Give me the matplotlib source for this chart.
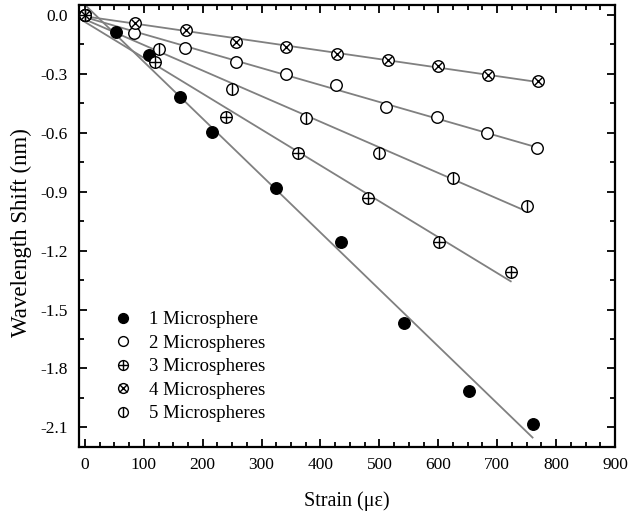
import numpy as np
import matplotlib
matplotlib.use("Agg")
import matplotlib.pyplot as plt
from matplotlib.ticker import MultipleLocator, FixedLocator

plt.rcParams['font.family'] = ['Liberation Serif', 'DejaVu Serif']
plt.rcParams['axes.unicode_minus'] = False

# Data (strain in micro-strain, wavelength shift in nm)
x1 = [0, 52, 109, 162, 216, 325, 434, 542, 652, 760]
y1 = [0, -0.085, -0.203, -0.417, -0.595, -0.883, -1.157, -1.571, -1.917, -2.084]
x2 = [0, 84, 170, 256, 341, 427, 512, 597, 683, 768]
y2 = [0, -0.093, -0.168, -0.239, -0.303, -0.359, -0.468, -0.520, -0.600, -0.680]
x3 = [0, 119, 240, 361, 481, 602, 723]
y3 = [0, -0.241, -0.522, -0.705, -0.930, -1.156, -1.310]
x4 = [0, 85, 171, 257, 342, 428, 514, 599, 685, 770]
y4 = [0, -0.039, -0.076, -0.137, -0.163, -0.198, -0.230, -0.259, -0.308, -0.337]
x5 = [0, 126, 250, 375, 499, 625, 750]
y5 = [0, -0.173, -0.378, -0.524, -0.702, -0.829, -0.974]
labels = ["1 Microsphere", "2 Microspheres", "3 Microspheres",
          "4 Microspheres", "5 Microspheres"]

fig = plt.figure(figsize=(6.37, 5.12), dpi=100)
ax = fig.add_axes([0.124, 0.127, 0.8415, 0.863])

series = [(x1, y1), (x2, y2), (x3, y3), (x4, y4), (x5, y5)]
# fitted lines
for xs, ys in series:
    k, b = np.polyfit(xs, ys, 1)
    xx = np.array([-10, max(xs)])
    ax.plot(xx, k * xx + b, color='#808080', lw=1.3, zorder=1)

ms = 8.3
mew = 1.0
h1 = ax.plot(x1, y1, 'o', ms=ms, mfc='black', mec='black', mew=mew, zorder=3, ls='none')[0]
h2 = ax.plot(x2, y2, 'o', ms=ms, mfc='white', mec='black', mew=mew, zorder=3, ls='none')[0]
h3a = ax.plot(x3, y3, 'o', ms=ms, mfc='white', mec='black', mew=mew, zorder=3, ls='none')[0]
h3b = ax.plot(x3, y3, '+', ms=ms, mec='black', mew=mew, zorder=4, ls='none')[0]
h4a = ax.plot(x4, y4, 'o', ms=ms, mfc='white', mec='black', mew=mew, zorder=3, ls='none')[0]
h4b = ax.plot(x4, y4, 'x', ms=ms * 0.72, mec='black', mew=mew, zorder=4, ls='none')[0]
h5a = ax.plot(x5, y5, 'o', ms=ms, mfc='white', mec='black', mew=mew, zorder=3, ls='none')[0]
h5b = ax.plot(x5, y5, '|', ms=ms, mec='black', mew=mew, zorder=4, ls='none')[0]

ax.set_xlim(-10, 900)
ax.set_ylim(-2.2, 0.05)
ax.xaxis.set_major_locator(MultipleLocator(100))
ax.xaxis.set_minor_locator(MultipleLocator(25))
ax.yaxis.set_major_locator(FixedLocator([0.0, -0.3, -0.6, -0.9, -1.2, -1.5, -1.8, -2.1]))
ax.yaxis.set_minor_locator(FixedLocator(np.arange(0.0, -2.2, -0.15)))
ax.set_yticklabels(["0.0", "-0.3", "-0.6", "-0.9", "-1.2", "-1.5", "-1.8", "-2.1"])
ax.tick_params(which='both', direction='in', top=True, right=True, labelsize=12.5, width=1.3)
ax.tick_params(which='major', length=6)
ax.tick_params(axis='x', which='major', pad=7)
ax.tick_params(axis='y', which='major', pad=8)
ax.tick_params(which='minor', length=3.5)
for s in ax.spines.values():
    s.set_linewidth(1.6)

ax.set_xlabel("Strain (με)", fontsize=14.5)
ax.xaxis.set_label_coords(0.5, -0.1)
ax.set_ylabel("Wavelength Shift (nm)", fontsize=16.5)
ax.yaxis.set_label_coords(-0.088, 0.486)

leg = ax.legend([h1, h2, (h3a, h3b), (h4a, h4b), (h5a, h5b)], labels,
                loc='lower left', bbox_to_anchor=(0.024, 0.018), frameon=False,
                fontsize=13.5, markerscale=0.85, handlelength=1.5, handletextpad=0.65,
                labelspacing=0.34)

fig.savefig("out.png", dpi=100)
